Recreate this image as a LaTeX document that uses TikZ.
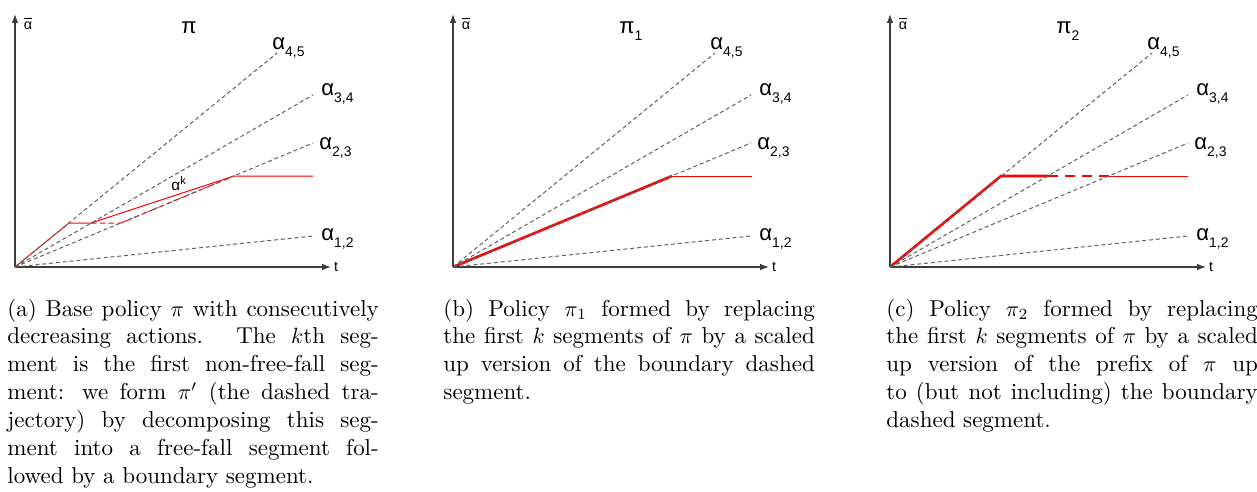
\documentclass[tikz,border=0pt]{standalone}
\usepackage{fontspec}
\usetikzlibrary{arrows.meta,positioning}
\newfontfamily\figfont{Liberation Sans}
\definecolor{fanGray}{RGB}{95,95,95}
\definecolor{axisGray}{RGB}{60,60,60}
\definecolor{pathRed}{RGB}{255,0,0}
\newcommand\sublab[1]{\raisebox{-3.4pt}{\fontsize{6.3}{7}\selectfont #1}}

\begin{document}
\begin{tikzpicture}[x=0.0159cm,y=-0.0159cm,
    fan/.style={fanGray,line width=0.45pt,dash pattern=on 1.8pt off 1.3pt},
    axisline/.style={axisGray,line width=0.6pt,-{Latex[length=4pt,width=3pt]}},
    thinred/.style={pathRed,line width=0.45pt},
    thickred/.style={pathRed,line width=1.2pt},
    fanlabel/.style={anchor=base west,inner sep=0pt,font=\figfont\fontsize{10}{12}\selectfont},
    smalllabel/.style={inner sep=0pt,font=\figfont\fontsize{6.5}{7}\selectfont},
    capbox/.style={anchor=base west,inner sep=0pt,text width=168pt,align=justify,
      font=\fontsize{10.4}{12.6}\selectfont\sloppy}]
    \useasboundingbox (0,0) rectangle (1257,491);

    % red trajectories first, the fans go on top
    \begin{scope}[shift={(15,267)}]
      \draw[thinred] (0,0) -- (54,-44) -- (76,-44) -- (219,-91) -- (298,-91);
      \draw[thinred,dash pattern=on 2.5pt off 1.5pt] (76,-44) -- (106,-44) -- (219,-91);
      \node[anchor=base west,inner sep=0pt,font=\figfont\fontsize{7}{8}\selectfont]
        (alphak) at (156,-77) {α\raisebox{2.6pt}{\fontsize{5}{6}\selectfont k}};
    \end{scope}
    \begin{scope}[shift={(453,267)}]
      \draw[thickred] (0,0) -- (219,-91);
      \draw[thinred] (219,-91) -- (299,-91);
    \end{scope}
    \begin{scope}[shift={(890,267)}]
      \draw[thickred] (0,0) -- (111,-91) -- (158,-91);
      \draw[thickred,dash pattern=on 4.5pt off 3.2pt] (158,-91) -- (219,-91);
      \draw[thinred] (219,-91) -- (298,-91);
    \end{scope}

    % axes, fan of actions and labels
    \foreach \ox/\nm/\title in {15/a/{π}, 453/b/{π\sublab{1}}, 890/c/{π\sublab{2}}} {
      \begin{scope}[shift={(\ox,267)}]
        \coordinate (o\nm) at (0,0);
        \draw[axisline] (o\nm) -- (0,-253);
        \draw[axisline] (o\nm) -- (316,0);
        \node[smalllabel] (t\nm) at (321,0) {t};
        \node[smalllabel] (abar\nm) at (13,-244) {$\overline{\hbox{\figfont\fontsize{6.5}{7}\selectfont α}}$};
        \node[fanlabel] (pi\nm) at (166,-234) {\title};
        \foreach \id/\ex/\ey/\lx/\ly/\sub in {
          45/262/-214/257/-218/{4,5},
          34/298/-172/306/-172/{3,4},
          23/298/-124/304/-118/{2,3},
          12/298/-31/306/-27/{1,2}} {
            \draw[fan] (o\nm) -- (\ex,\ey);
            \node[fanlabel] (al\nm\id) at (\lx,\ly) {α\sublab{\sub}};
        }
      \end{scope}
    }

    % captions
    \node[capbox] (capa) at (7,316) {(a) Base policy $\pi$ with consecutively\linebreak
      decreasing actions. The $k$th seg-\linebreak
      ment is the first non-free-fall seg-\linebreak
      ment: we form $\pi'$ (the dashed tra-\linebreak
      jectory) by decomposing this seg-\linebreak
      ment into a free-fall segment fol-\linebreak
      lowed by a boundary segment.};
    \node[capbox] (capb) at (443,316) {(b) Policy $\pi_1$ formed by replacing\linebreak
      the first $k$ segments of $\pi$ by a scaled\linebreak
      up version of the boundary dashed\linebreak
      segment.};
    \node[capbox] (capc) at (886,316) {(c) Policy $\pi_2$ formed by replacing\linebreak
      the first $k$ segments of $\pi$ by a scaled\linebreak
      up version of the prefix of $\pi$ up\linebreak
      to (but not including) the boundary\linebreak
      dashed segment.};
  \end{tikzpicture}
\end{document}
